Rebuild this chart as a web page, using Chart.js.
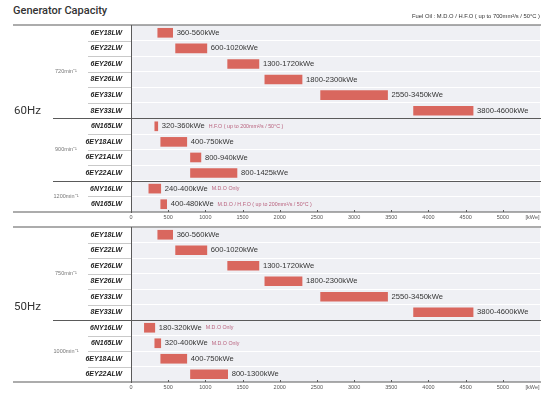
<!DOCTYPE html>
<html>
<head>
<meta charset="utf-8">
<title>Generator Capacity</title>
<script src="https://cdn.jsdelivr.net/npm/chart.js@4.4.1/dist/chart.umd.min.js"></script>
<style>
  body { margin: 0; background: #fff; }
  #page { position: relative; width: 556px; height: 399px; overflow: hidden; }
  #title { position: absolute; left: 13px; top: 4px; font: 500 11px Roboto, "Liberation Sans", sans-serif; color: #333; }
  .wrap { position: absolute; left: 0; width: 556px; }
</style>
</head>
<body>
<div id="page">
  <div id="title">Generator Capacity</div>
  <div class="wrap" style="top:0;height:226px"><canvas id="c60"></canvas></div>
  <div class="wrap" style="top:210px;height:189px"><canvas id="c50"></canvas></div>
</div>
<script>
// 60Hz section
const models60 = ['6EY18LW', '6EY22LW', '6EY26LW', '8EY26LW', '6EY33LW', '8EY33LW',
                  '6N165LW', '6EY18ALW', '6EY21ALW', '6EY22ALW', '6NY16LW', '6N165LW'];
const low60  = [360, 600, 1300, 1800, 2550, 3800, 320, 400, 800, 800, 240, 400];
const high60 = [560, 1020, 1720, 2300, 3450, 4600, 360, 750, 940, 1425, 400, 480];
const notes60 = ['', '', '', '', '', '', 'H.F.O ( up to 200mm²/s / 50°C )', '', '', '',
                 'M.D.O Only', 'M.D.O / H.F.O ( up to 200mm²/s / 50°C )'];
const speeds60 = ['720min⁻¹', '900min⁻¹', '1200min⁻¹'];
const groupSizes60 = [6, 4, 2];

// 50Hz section
const models50 = ['6EY18LW', '6EY22LW', '6EY26LW', '8EY26LW', '6EY33LW', '8EY33LW',
                  '6NY16LW', '6N165LW', '6EY18ALW', '6EY22ALW'];
const low50  = [360, 600, 1300, 1800, 2550, 3800, 180, 320, 400, 800];
const high50 = [560, 1020, 1720, 2300, 3450, 4600, 320, 400, 750, 1300];
const notes50 = ['', '', '', '', '', '', 'M.D.O Only', 'M.D.O Only', '', ''];
const speeds50 = ['750min⁻¹', '1000min⁻¹'];
const groupSizes50 = [6, 4];

// shared x axis (the unit label sits just right of 5000)
const xTickValues = [0, 500, 1000, 1500, 2000, 2500, 3000, 3500, 4000, 4500, 5000, 5400];
const xTickLabels = ['0', '500', '1000', '1500', '2000', '2500', '3000', '3500', '4000', '4500', '5000', '[kWe]'];
const fuelNote = 'Fuel Oil : M.D.O / H.F.O ( up to 700mm²/s / 50°C )';

const BAR_COLOR = '#d9675e';
const NOTE_COLOR = '#b8607c';
const PLOT_BG = '#eff0f4';
const DARK_LINE = '#5a5a5a';
const FONT = '"Liberation Sans", Arial, sans-serif';

function makeSectionPlugin(s) {
  return {
    id: 'section',
    beforeDraw(chart) {
      const { ctx, chartArea: a } = chart;
      ctx.save();
      ctx.fillStyle = PLOT_BG;
      ctx.fillRect(a.left, a.top, a.right - a.left, a.bottom - a.top);
      ctx.restore();
    },
    afterDraw(chart) {
      const { ctx, chartArea: a } = chart;
      const y = chart.scales.y;
      const x = chart.scales.x;
      const half = (y.getPixelForValue(1) - y.getPixelForValue(0)) / 2;
      const hline = (x1, x2, yy) => {
        ctx.beginPath();
        ctx.moveTo(x1, yy);
        ctx.lineTo(x2, yy);
        ctx.stroke();
      };
      ctx.save();

      // thin separators in the model column
      ctx.strokeStyle = '#c9c9c9';
      ctx.lineWidth = 1;
      for (let i = 1; i < s.models.length; i++) {
        hline(88, a.left, Math.round(y.getPixelForValue(i) - half) + 0.5);
      }

      // speed groups
      ctx.strokeStyle = DARK_LINE;
      ctx.fillStyle = '#777';
      ctx.font = '5.5px ' + FONT;
      ctx.textAlign = 'center';
      ctx.textBaseline = 'middle';
      let idx = 0;
      s.groupSizes.forEach((size, g) => {
        const top = y.getPixelForValue(idx) - half;
        const bot = y.getPixelForValue(idx + size - 1) + half;
        ctx.fillText(s.speeds[g], 66, (top + bot) / 2);
        if (idx > 0) hline(53, a.right + 1, Math.round(top) + 0.5);
        idx += size;
      });

      // outer lines
      ctx.lineWidth = 1.2;
      hline(13, a.right + 1, a.top);
      hline(13, a.right + 1, a.bottom);

      // small tick marks on the axis line
      ctx.lineWidth = 1;
      xTickValues.slice(0, -1).forEach(v => {
        const px = Math.round(x.getPixelForValue(v)) + 0.5;
        ctx.beginPath();
        ctx.moveTo(px, a.bottom - 2);
        ctx.lineTo(px, a.bottom);
        ctx.stroke();
      });

      // Hz label
      ctx.fillStyle = '#333';
      ctx.font = '11.5px Roboto, ' + FONT;
      ctx.textAlign = 'left';
      ctx.fillText(s.hz, 14, s.hzY);

      // fuel note
      if (s.fuel) {
        ctx.font = '5.8px ' + FONT;
        ctx.textAlign = 'right';
        ctx.fillText(s.fuel, a.right, 16);
      }

      // range labels
      const bars = chart.getDatasetMeta(0).data;
      bars.forEach((bar, i) => {
        const txt = s.low[i] + '-' + s.high[i] + 'kWe';
        const tx = bar.x + 4;
        ctx.textAlign = 'left';
        ctx.fillStyle = '#333';
        ctx.font = '7.6px ' + FONT;
        ctx.fillText(txt, tx, bar.y);
        if (s.notes[i]) {
          const w = ctx.measureText(txt).width;
          ctx.fillStyle = NOTE_COLOR;
          ctx.font = '5.3px ' + FONT;
          ctx.fillText(s.notes[i], tx + w + 4, bar.y);
        }
      });
      ctx.restore();
    }
  };
}

function sectionChart(id, s) {
  return new Chart(document.getElementById(id), {
    type: 'bar',
    data: {
      labels: s.models,
      datasets: [{
        data: s.low.map((v, i) => [v, s.high[i]]),
        backgroundColor: BAR_COLOR,
        barThickness: 9,
        borderWidth: 0,
        borderSkipped: false
      }]
    },
    options: {
      indexAxis: 'y',
      responsive: true,
      maintainAspectRatio: false,
      animation: false,
      events: [],
      layout: { padding: { top: s.padTop, right: 16, left: 0, bottom: 0 } },
      plugins: {
        legend: { display: false },
        tooltip: { enabled: false }
      },
      scales: {
        x: {
          type: 'linear',
          min: 0,
          max: 5500,
          afterBuildTicks: scale => { scale.ticks = xTickValues.map(v => ({ value: v })); },
          afterFit: scale => { scale.height = s.axisH; },
          grid: { display: false, drawTicks: false },
          border: { display: false },
          ticks: {
            font: { size: 5.5, family: FONT },
            color: '#555',
            padding: 2.5,
            maxRotation: 0,
            autoSkip: false,
            callback: (v, i) => xTickLabels[i]
          }
        },
        y: {
          afterFit: scale => { scale.width = 131; },
          grid: { color: '#ffffff', offset: true, drawTicks: false },
          border: { display: true, color: DARK_LINE },
          ticks: {
            font: { size: 7, weight: 'bold', style: 'italic', family: FONT },
            color: '#222',
            padding: 9,
            autoSkip: false
          }
        }
      }
    },
    plugins: [makeSectionPlugin(s)]
  });
}

sectionChart('c60', {
  models: models60, low: low60, high: high60, notes: notes60,
  speeds: speeds60, groupSizes: groupSizes60,
  hz: '60Hz', hzY: 111, fuel: fuelNote, padTop: 25, axisH: 14
});

sectionChart('c50', {
  models: models50, low: low50, high: high50, notes: notes50,
  speeds: speeds50, groupSizes: groupSizes50,
  hz: '50Hz', hzY: 97, fuel: null, padTop: 17, axisH: 17
});
</script>
</body>
</html>
